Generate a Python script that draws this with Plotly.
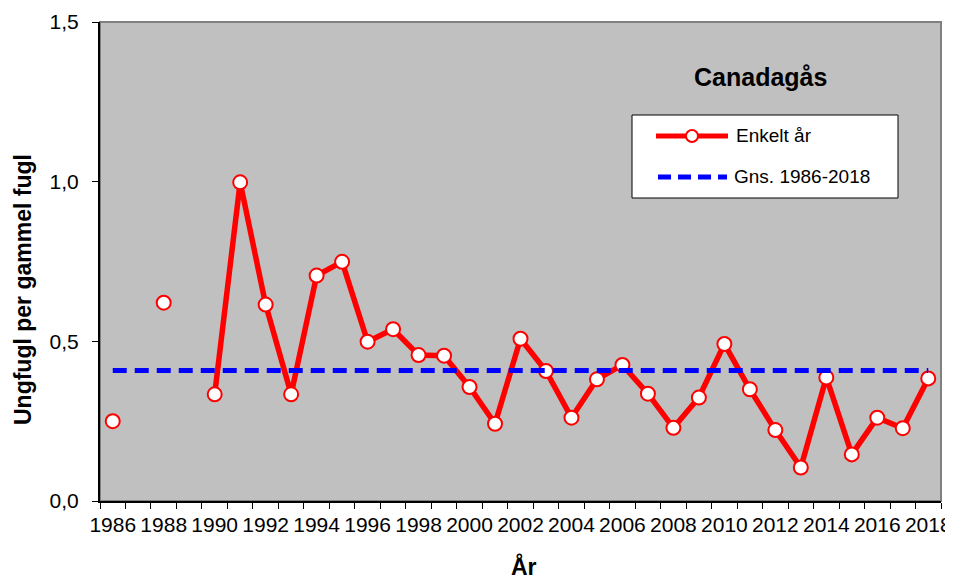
import plotly.graph_objects as go

years = list(range(1986, 2019))
values = [0.250, None, 0.621, None, 0.334, 0.998, 0.615, 0.334, 0.706, 0.749,
          0.499, 0.538, 0.457, 0.455, 0.357, 0.242, 0.508, 0.407, 0.261, 0.381,
          0.426, 0.336, 0.229, 0.324, 0.492, 0.350, 0.222, 0.105, 0.387, 0.146,
          0.261, 0.228, 0.384]
mean_value = 0.409
mean_values = [mean_value] * len(years)
xtick_vals = list(range(1986, 2019, 2))
xtick_text = [str(y) for y in xtick_vals]
ytick_vals = [0, 0.5, 1.0, 1.5]
boundary_ticks = [y - 0.5 for y in years] + [years[-1] + 0.5]
series_names = ["Enkelt år", "Gns. 1986-2018"]

FONT = "Liberation Sans, Arial, sans-serif"
RED = "#ff0000"
BLUE = "#0000ff"
DASH = "14px,8px"

# The page body has an 8px default margin, so the figure is drawn 8px in.
OFF = 8
W, H = 953 - OFF, 582 - OFF
L, R, T, B = 100 - OFF, 12, 22 - OFF, 81
PW, PH = W - L - R, H - T - B


def px(x):
    # page pixel x -> paper coordinate
    return (x - OFF - L) / PW


def py(y):
    # page pixel y -> paper coordinate
    return (H - B - (y - OFF)) / PH


fig = go.Figure()
fig.add_trace(go.Scatter(
    x=years, y=values, name=series_names[0], mode="lines+markers",
    connectgaps=False, showlegend=False,
    line=dict(color=RED, width=5.5),
    marker=dict(symbol="circle", size=14, color="white",
                line=dict(color=RED, width=2)),
))
fig.add_trace(go.Scatter(
    x=years, y=mean_values, name=series_names[1], mode="lines",
    showlegend=False,
    line=dict(color=BLUE, width=5, dash=DASH),
))

# plot-area border (grey)
fig.add_shape(type="rect", xref="paper", yref="paper", x0=0, y0=0, x1=1, y1=1,
              line=dict(color="#808080", width=2), layer="below")

# legend box (drawn manually to match the original layout)
fig.add_shape(type="rect", xref="paper", yref="paper",
              x0=px(632), x1=px(898), y0=py(198), y1=py(115),
              line=dict(color="black", width=1), fillcolor="white")
fig.add_shape(type="line", xref="paper", yref="paper",
              x0=px(656), x1=px(728), y0=py(136), y1=py(136),
              line=dict(color=RED, width=5))
fig.add_shape(type="circle", xref="paper", yref="paper",
              xsizemode="pixel", ysizemode="pixel",
              xanchor=px(692), yanchor=py(136),
              x0=-6, x1=6, y0=-6, y1=6,
              line=dict(color=RED, width=2), fillcolor="white")
fig.add_shape(type="line", xref="paper", yref="paper",
              x0=px(658), x1=px(727), y0=py(177), y1=py(177),
              line=dict(color=BLUE, width=5, dash="13px,7px"))
fig.add_annotation(text=series_names[0], xref="paper", yref="paper",
                   x=px(734), y=py(136), xanchor="left", yanchor="middle",
                   showarrow=False, font=dict(family=FONT, size=19, color="black"))
fig.add_annotation(text=series_names[1], xref="paper", yref="paper",
                   x=px(732), y=py(177), xanchor="left", yanchor="middle",
                   showarrow=False, font=dict(family=FONT, size=19, color="black"))

# chart title inside plot
fig.add_annotation(text="<b>Canadagås</b>", xref="paper", yref="paper",
                   x=px(760), y=py(77), xanchor="center", yanchor="middle",
                   showarrow=False, font=dict(family=FONT, size=25, color="black"))

# axis titles
fig.add_annotation(text="<b>Ungfugl per gammel fugl</b>", xref="paper", yref="paper",
                   x=px(23), y=py(290), xanchor="center", yanchor="middle",
                   textangle=-90, showarrow=False,
                   font=dict(family=FONT, size=23, color="black"))
fig.add_annotation(text="<b>År</b>", xref="paper", yref="paper",
                   x=px(524), y=py(566), xanchor="center", yanchor="middle",
                   showarrow=False, font=dict(family=FONT, size=23, color="black"))

fig.update_layout(
    width=W, height=H,
    margin=dict(l=L, r=R, t=T, b=B, autoexpand=False),
    paper_bgcolor="white", plot_bgcolor="#c0c0c0",
    separators=", ",
    font=dict(family=FONT, size=21, color="black"),
    showlegend=False,
    xaxis=dict(
        range=[1985.5, 2018.5], tickmode="array", tickvals=xtick_vals,
        ticktext=xtick_text, ticks="", showgrid=False, zeroline=False,
        showline=True, linecolor="black", linewidth=2, automargin=False,
        tickfont=dict(family=FONT, size=21), ticklabelstandoff=4,
        minor=dict(tickmode="array", tickvals=boundary_ticks, ticks="outside",
                   ticklen=6, tickcolor="black", tickwidth=1, showgrid=False),
    ),
    yaxis=dict(
        range=[0, 1.5], tickmode="array", tickvals=ytick_vals,
        tickformat=".1f", ticks="outside", ticklen=6, tickcolor="black",
        showgrid=False, zeroline=False, showline=True, linecolor="black",
        linewidth=2, automargin=False,
        tickfont=dict(family=FONT, size=21), ticklabelstandoff=9,
    ),
)

fig.write_html("out.html")
